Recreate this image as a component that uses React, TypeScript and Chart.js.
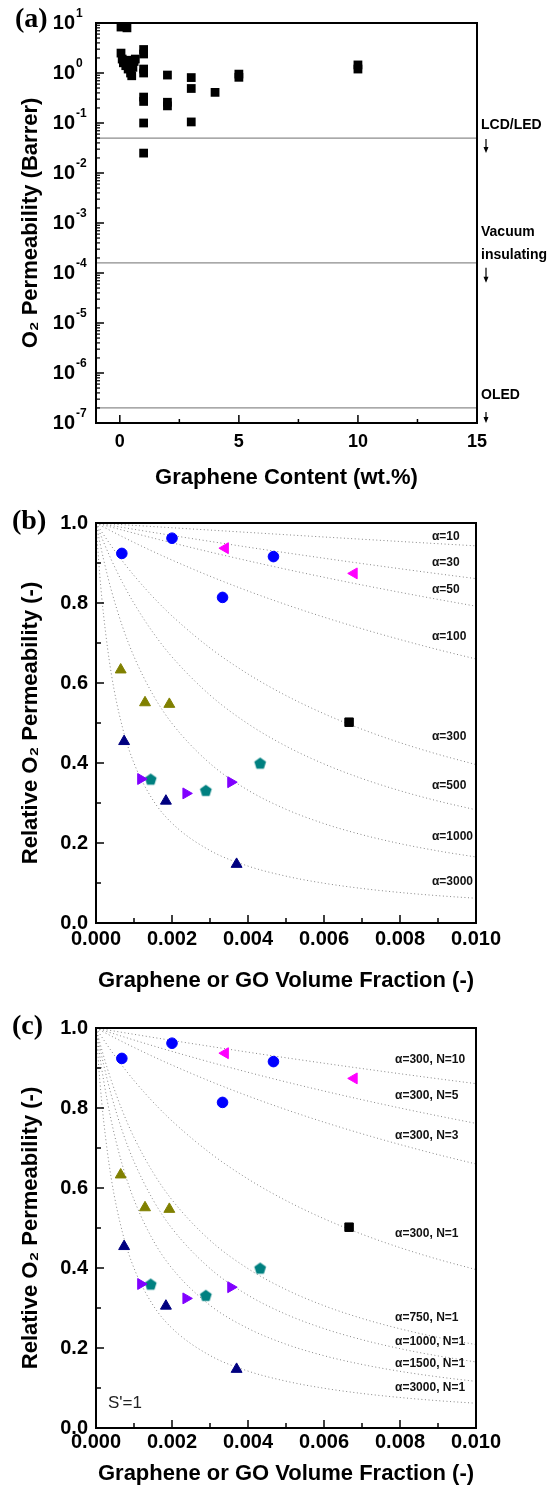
import React, { useEffect, useRef } from "react";
import { Chart, registerables } from "chart.js";

Chart.register(...registerables);

const FONT = "'Liberation Sans', Arial, Helvetica, sans-serif";
const SERIF = "'Liberation Serif', 'Times New Roman', serif";

// ---------------- Panel (a) data ----------------
const wtContent = [0.05, 0.3, 0.05, 0.1, 0.15, 0.25, 0.3, 0.35, 0.4, 0.45, 0.5, 0.55, 0.6, 0.65, 1, 1, 1, 1, 1, 1, 1, 1, 2, 2, 2, 3, 3, 3, 4, 5, 5, 10, 10];
const o2Permeability = [8.3, 8.0, 2.5, 1.9, 1.6, 1.4, 1.8, 1.2, 1.5, 1.0, 0.88, 1.3, 1.7, 1.9, 2.95, 2.4, 1.2, 1.0, 0.33, 0.27, 0.1, 0.025, 0.91, 0.26, 0.22, 0.81, 0.49, 0.105, 0.41, 0.95, 0.82, 1.45, 1.2];
const requirementLevels = [0.05, 1.6e-4, 2e-7];
const requirementLabels = [["LCD/LED"], ["Vacuum", "insulating"], ["OLED"]];
const logTickExponents = [-7, -6, -5, -4, -3, -2, -1, 0, 1];
const xTicksA = [0, 5, 10, 15];
const xMinorA = [2.5, 7.5, 12.5];

// ---------------- Panels (b), (c) data ----------------
const phiGrid = [0, 0.0001, 0.0002, 0.0004, 0.0007, 0.001, 0.0015, 0.002, 0.003, 0.004, 0.005, 0.006, 0.007, 0.008, 0.009, 0.01];
const curve10 = [1, 0.9994, 0.9988, 0.9976, 0.9958, 0.994, 0.9911, 0.9881, 0.9823, 0.9765, 0.9707, 0.965, 0.9594, 0.9538, 0.9483, 0.9429];
const curve30 = [1, 0.9984, 0.9968, 0.9936, 0.9889, 0.9842, 0.9765, 0.9689, 0.9541, 0.9396, 0.9256, 0.9119, 0.8986, 0.8857, 0.8731, 0.8609];
const curve50 = [1, 0.9974, 0.9948, 0.9897, 0.9821, 0.9746, 0.9624, 0.9505, 0.9274, 0.9055, 0.8844, 0.8643, 0.8451, 0.8267, 0.809, 0.792];
const curve60 = [1, 0.9969, 0.9938, 0.9877, 0.9787, 0.9699, 0.9555, 0.9415, 0.9147, 0.8893, 0.8652, 0.8424, 0.8207, 0.8, 0.7803, 0.7615];
const curve100 = [1, 0.9949, 0.9899, 0.98, 0.9655, 0.9514, 0.9288, 0.9073, 0.867, 0.83, 0.796, 0.7646, 0.7356, 0.7086, 0.6834, 0.66];
const curve300 = [1, 0.9851, 0.9707, 0.943, 0.9044, 0.8687, 0.8151, 0.7677, 0.6876, 0.6225, 0.5686, 0.5232, 0.4844, 0.4509, 0.4217, 0.396];
const curve500 = [1, 0.9755, 0.9522, 0.9087, 0.8505, 0.7992, 0.7262, 0.6653, 0.5697, 0.498, 0.4422, 0.3976, 0.3611, 0.3307, 0.3049, 0.2829];
const curve750 = [1, 0.9638, 0.93, 0.8692, 0.7915, 0.7265, 0.639, 0.5703, 0.4692, 0.3984, 0.3461, 0.3058, 0.2739, 0.248, 0.2265, 0.2084];
const curve1000 = [1, 0.9523, 0.9089, 0.833, 0.7402, 0.666, 0.5706, 0.499, 0.3988, 0.332, 0.2843, 0.2485, 0.2207, 0.1984, 0.1802, 0.165];
const curve1500 = [1, 0.9301, 0.8694, 0.7689, 0.6553, 0.5709, 0.4699, 0.3992, 0.3068, 0.249, 0.2095, 0.1807, 0.1589, 0.1417, 0.1279, 0.1165];
const curve3000 = [1, 0.8695, 0.7691, 0.6248, 0.4875, 0.3996, 0.3072, 0.2495, 0.1813, 0.1423, 0.1171, 0.0994, 0.0863, 0.0763, 0.0683, 0.0619];

const curvesB = [curve10, curve30, curve50, curve100, curve300, curve500, curve1000, curve3000];
const curveLabelsB = ["α=10", "α=30", "α=50", "α=100", "α=300", "α=500", "α=1000", "α=3000"];
const curveLabelYB = [0.967, 0.9, 0.833, 0.715, 0.466, 0.343, 0.215, 0.103];
const curvesC = [curve30, curve60, curve100, curve300, curve750, curve1000, curve1500, curve3000];
const curveLabelsC = ["α=300, N=10", "α=300, N=5", "α=300, N=3", "α=300, N=1", "α=750, N=1", "α=1000, N=1", "α=1500, N=1", "α=3000, N=1"];
const curveLabelYC = [0.92, 0.83, 0.73, 0.485, 0.277, 0.217, 0.16, 0.1];

const blueCircleX = [0.00068, 0.002, 0.00333, 0.00467];
const blueCircleY = [0.924, 0.962, 0.814, 0.916];
const magentaX = [0.0034, 0.00679];
const magentaY = [0.937, 0.874];
const blackSquareX = [0.00666];
const blackSquareY = [0.502];
const oliveX = [0.00065, 0.00129, 0.00193];
const oliveY = [0.633, 0.551, 0.547];
const navyX = [0.00074, 0.00184, 0.0037];
const navyY = [0.454, 0.305, 0.147];
const violetX = [0.00118, 0.00237, 0.00355];
const violetY = [0.36, 0.324, 0.352];
const tealX = [0.00144, 0.00289, 0.00432];
const tealY = [0.36, 0.332, 0.4];

const xTicksB = [0, 0.002, 0.004, 0.006, 0.008, 0.01];
const xMinorB = [0.001, 0.003, 0.005, 0.007, 0.009];
const yTicksB = [0, 0.2, 0.4, 0.6, 0.8, 1.0];
const yMinorB = [0.1, 0.3, 0.5, 0.7, 0.9];

const pts = (xs: number[], ys: number[]) => xs.map((x, i) => ({ x, y: ys[i] }));

function makePentagon(color: string, r: number) {
  const c = document.createElement("canvas");
  const s = Math.ceil(r * 2 + 2);
  c.width = s;
  c.height = s;
  const g = c.getContext("2d")!;
  g.fillStyle = color;
  g.beginPath();
  for (let i = 0; i < 5; i++) {
    const a = -Math.PI / 2 + (i * 2 * Math.PI) / 5;
    const px = s / 2 + r * Math.cos(a);
    const py = s / 2 + r * Math.sin(a) + r * 0.1;
    if (i === 0) g.moveTo(px, py);
    else g.lineTo(px, py);
  }
  g.closePath();
  g.fill();
  return c;
}

function seg(ctx: CanvasRenderingContext2D, x1: number, y1: number, x2: number, y2: number) {
  ctx.beginPath();
  ctx.moveTo(x1, y1);
  ctx.lineTo(x2, y2);
  ctx.stroke();
}

function drawArrow(ctx: CanvasRenderingContext2D, x: number, y0: number, y1: number) {
  ctx.lineWidth = 1.2;
  seg(ctx, x, y0, x, y1 - 4);
  ctx.beginPath();
  ctx.moveTo(x - 2.5, y1 - 6);
  ctx.lineTo(x + 2.5, y1 - 6);
  ctx.lineTo(x, y1);
  ctx.closePath();
  ctx.fill();
}

function buildPanelA(canvas: HTMLCanvasElement) {
  const decor = {
    id: "decorA",
    afterDraw(chart: any) {
      const { ctx, chartArea: a, scales } = chart;
      const x = scales.x;
      const y = scales.y;
      ctx.save();
      ctx.strokeStyle = "#000";
      ctx.fillStyle = "#000";
      ctx.lineWidth = 1.5;
      xTicksA.forEach((v) => {
        const p = x.getPixelForValue(v);
        seg(ctx, p, a.bottom, p, a.bottom - 8);
      });
      xMinorA.forEach((v) => {
        const p = x.getPixelForValue(v);
        seg(ctx, p, a.bottom, p, a.bottom - 4);
      });
      logTickExponents.forEach((e) => {
        const p = y.getPixelForValue(Math.pow(10, e));
        ctx.lineWidth = 1.5;
        seg(ctx, a.left, p, a.left + 8, p);
        if (e < 1) {
          for (let m = 2; m <= 9; m++) {
            const q = y.getPixelForValue(m * Math.pow(10, e));
            ctx.lineWidth = 1.2;
            seg(ctx, a.left, q, a.left + 4, q);
          }
        }
        ctx.font = `bold 20px ${FONT}`;
        ctx.textAlign = "right";
        ctx.textBaseline = "middle";
        ctx.fillText("10", a.left - 21, p);
        ctx.font = `bold 12px ${FONT}`;
        ctx.textAlign = "left";
        ctx.fillText(String(e), a.left - 20, p - 9);
      });
      ctx.lineWidth = 2;
      ctx.strokeRect(a.left, a.top, a.right - a.left, a.bottom - a.top);

      const offsets = [[-12.5], [-31, -8], [-13]];
      const arrows = [[1, 15], [5, 20], [4, 15]];
      ctx.font = `bold 14px ${FONT}`;
      ctx.textAlign = "left";
      ctx.textBaseline = "middle";
      requirementLevels.forEach((lvl, i) => {
        const p = y.getPixelForValue(lvl);
        requirementLabels[i].forEach((t, j) => ctx.fillText(t, a.right + 4, p + offsets[i][j]));
        drawArrow(ctx, a.right + 9, p + arrows[i][0], p + arrows[i][1]);
      });

      ctx.font = `bold 28px ${SERIF}`;
      ctx.textAlign = "left";
      ctx.textBaseline = "middle";
      ctx.fillText("(a)", 15, 20);
      ctx.restore();
    },
  };

  return new Chart(canvas, {
    type: "scatter",
    data: {
      datasets: [
        {
          data: pts(wtContent, o2Permeability),
          pointStyle: "rect",
          pointRadius: 6.2,
          backgroundColor: "#000",
          borderColor: "#000",
          borderWidth: 0,
          clip: false,
        },
        ...requirementLevels.map((v) => ({
          type: "line",
          data: [
            { x: -1, y: v },
            { x: 15, y: v },
          ],
          borderColor: "#8c8c8c",
          borderWidth: 1.3,
          pointRadius: 0,
          showLine: true,
        })),
      ],
    } as any,
    plugins: [decor],
    options: {
      animation: false,
      responsive: false,
      maintainAspectRatio: false,
      layout: { padding: { top: 23, right: 78, left: 0, bottom: 0 } },
      plugins: { legend: { display: false }, tooltip: { enabled: false } },
      scales: {
        x: {
          type: "linear",
          min: -1,
          max: 15,
          grid: { display: false, drawTicks: false },
          border: { display: false },
          afterBuildTicks: (s: any) => {
            s.ticks = xTicksA.map((v) => ({ value: v }));
          },
          afterFit: (s: any) => {
            s.height = 77;
          },
          ticks: { font: { family: FONT, size: 18, weight: "bold" }, color: "#000", padding: 8, maxRotation: 0, autoSkip: false },
          title: { display: true, text: "Graphene Content (wt.%)", font: { family: FONT, size: 22, weight: "bold" }, color: "#000", padding: { top: 0, bottom: 9 } },
        },
        y: {
          type: "logarithmic",
          min: 1e-7,
          max: 10,
          grid: { display: false, drawTicks: false },
          border: { display: false },
          afterBuildTicks: (s: any) => {
            s.ticks = logTickExponents.map((e) => ({ value: Math.pow(10, e) }));
          },
          afterFit: (s: any) => {
            s.width = 96;
          },
          ticks: { display: false },
          title: { display: true, text: "O₂ Permeability (Barrer)", font: { family: FONT, size: 22, weight: "bold" }, color: "#000", padding: { top: 18, bottom: 0 } },
        },
      },
    } as any,
  });
}

function buildFractionPanel(
  canvas: HTMLCanvasElement,
  letter: string,
  curves: number[][],
  labels: string[],
  labelY: number[],
  labelX: number,
  canvasH: number,
  xPad: number,
  titlePad: number,
  note: string | null
) {
  const pent = makePentagon("#008080", 6.2);
  const decor = {
    id: "decor" + letter,
    afterDraw(chart: any) {
      const { ctx, chartArea: a, scales } = chart;
      const x = scales.x;
      const y = scales.y;
      ctx.save();
      ctx.strokeStyle = "#000";
      ctx.fillStyle = "#000";
      ctx.lineWidth = 1.5;
      xTicksB.forEach((v) => {
        const p = x.getPixelForValue(v);
        seg(ctx, p, a.bottom, p, a.bottom - 8);
      });
      xMinorB.forEach((v) => {
        const p = x.getPixelForValue(v);
        seg(ctx, p, a.bottom, p, a.bottom - 5);
      });
      yTicksB.forEach((v) => {
        const p = y.getPixelForValue(v);
        seg(ctx, a.left, p, a.left + 8, p);
      });
      yMinorB.forEach((v) => {
        const p = y.getPixelForValue(v);
        seg(ctx, a.left, p, a.left + 5, p);
      });
      ctx.lineWidth = 2;
      ctx.strokeRect(a.left, a.top, a.right - a.left, a.bottom - a.top);

      ctx.fillStyle = "#111";
      ctx.font = `bold 12px ${FONT}`;
      ctx.textAlign = "left";
      ctx.textBaseline = "middle";
      labels.forEach((t, i) => ctx.fillText(t, x.getPixelForValue(labelX), y.getPixelForValue(labelY[i])));

      if (note) {
        ctx.font = `17px ${FONT}`;
        ctx.fillStyle = "#222";
        ctx.fillText(note, x.getPixelForValue(0.000316), y.getPixelForValue(0.0625));
      }

      ctx.fillStyle = "#000";
      ctx.font = `bold 28px ${SERIF}`;
      ctx.fillText(`(${letter})`, 12, 22);
      ctx.restore();
    },
  };

  const markerSets = [
    { data: pts(blueCircleX, blueCircleY), pointStyle: "circle", pointRadius: 5.3, color: "#0000ff", rot: 0 },
    { data: pts(magentaX, magentaY), pointStyle: "triangle", pointRadius: 6.3, color: "#ff00ff", rot: 270 },
    { data: pts(blackSquareX, blackSquareY), pointStyle: "rect", pointRadius: 6, color: "#000000", rot: 0 },
    { data: pts(oliveX, oliveY), pointStyle: "triangle", pointRadius: 6.3, color: "#808000", rot: 0 },
    { data: pts(navyX, navyY), pointStyle: "triangle", pointRadius: 6.3, color: "#000080", rot: 0 },
    { data: pts(violetX, violetY), pointStyle: "triangle", pointRadius: 6.3, color: "#8000ff", rot: 90 },
    { data: pts(tealX, tealY), pointStyle: pent, pointRadius: 6, color: "#008080", rot: 0 },
  ].map((m) => ({
    data: m.data,
    pointStyle: m.pointStyle,
    pointRadius: m.pointRadius,
    pointRotation: m.rot,
    backgroundColor: m.color,
    borderColor: m.color,
    borderWidth: 1,
    clip: false,
  }));

  const curveSets = curves.map((c) => ({
    data: pts(phiGrid, c),
    showLine: true,
    pointRadius: 0,
    borderColor: "#858585",
    borderWidth: 1,
    borderDash: [1, 2.6],
    cubicInterpolationMode: "monotone",
  }));

  return new Chart(canvas, {
    type: "scatter",
    data: { datasets: [...markerSets, ...curveSets] } as any,
    plugins: [decor],
    options: {
      animation: false,
      responsive: false,
      maintainAspectRatio: false,
      layout: { padding: { top: 23, right: 79, left: 0, bottom: 0 } },
      plugins: { legend: { display: false }, tooltip: { enabled: false } },
      scales: {
        x: {
          type: "linear",
          min: 0,
          max: 0.01,
          grid: { display: false, drawTicks: false },
          border: { display: false },
          afterBuildTicks: (s: any) => {
            s.ticks = xTicksB.map((v) => ({ value: v }));
          },
          afterFit: (s: any) => {
            s.height = canvasH - 423;
          },
          ticks: {
            font: { family: FONT, size: 20, weight: "bold" },
            color: "#000",
            padding: xPad,
            maxRotation: 0,
            autoSkip: false,
            callback: (v: number) => Number(v).toFixed(3),
          },
          title: { display: true, text: "Graphene or GO Volume Fraction (-)", font: { family: FONT, size: 22, weight: "bold" }, color: "#000", padding: { top: 0, bottom: titlePad } },
        },
        y: {
          type: "linear",
          min: 0,
          max: 1,
          grid: { display: false, drawTicks: false },
          border: { display: false },
          afterBuildTicks: (s: any) => {
            s.ticks = yTicksB.map((v) => ({ value: v }));
          },
          afterFit: (s: any) => {
            s.width = 96;
          },
          ticks: {
            font: { family: FONT, size: 20, weight: "bold" },
            color: "#000",
            padding: 8,
            callback: (v: number) => Number(v).toFixed(1),
          },
          title: { display: true, text: "Relative O₂ Permeability (-)", font: { family: FONT, size: 22, weight: "bold" }, color: "#000", padding: { top: 18, bottom: 0 } },
        },
      },
    } as any,
  });
}

export default function App() {
  const refA = useRef<HTMLCanvasElement>(null);
  const refB = useRef<HTMLCanvasElement>(null);
  const refC = useRef<HTMLCanvasElement>(null);

  useEffect(() => {
    const a = buildPanelA(refA.current!);
    const b = buildFractionPanel(refB.current!, "b", curvesB, curveLabelsB, curveLabelYB, 0.00884, 505, 4, 10.4, null);
    const c = buildFractionPanel(refC.current!, "c", curvesC, curveLabelsC, curveLabelYC, 0.00787, 490, 2, 7.4, "S'=1");
    return () => {
      a.destroy();
      b.destroy();
      c.destroy();
    };
  }, []);

  const abs = (top: number, h: number): React.CSSProperties => ({ position: "absolute", left: 0, top, width: 555, height: h, display: "block" });

  return (
    <div style={{ position: "absolute", left: 0, top: 0, width: 555, height: 1495, background: "#fff", overflow: "hidden" }}>
      <canvas ref={refA} width={555} height={500} style={abs(0, 500)} />
      <canvas ref={refB} width={555} height={505} style={abs(500, 505)} />
      <canvas ref={refC} width={555} height={490} style={abs(1005, 490)} />
    </div>
  );
}
